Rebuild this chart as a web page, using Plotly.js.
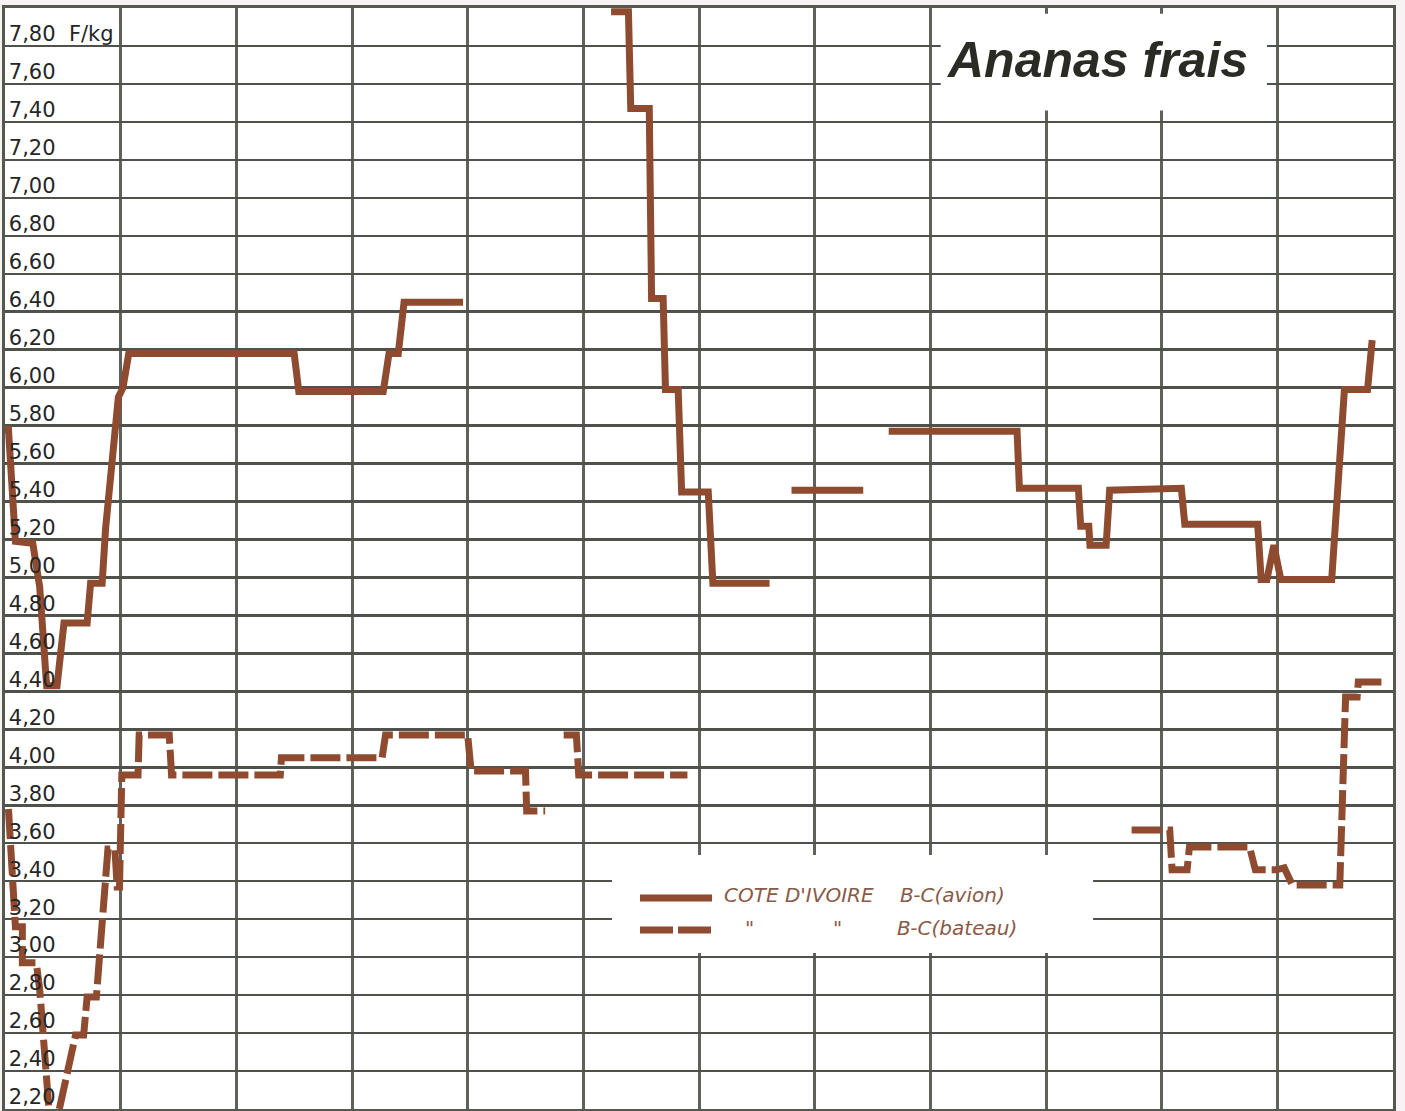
<!DOCTYPE html>
<html>
<head>
<meta charset="utf-8">
<script src="https://cdn.plot.ly/plotly-3.0.1.min.js"></script>
<style>html,body{margin:0;padding:0;background:#f6f3f2;}#chart{width:1405px;height:1111px;}</style>
</head>
<body>
<div id="chart"></div>
<script>
// ---- Data (x in months from the left edge, y in F/kg) ----
const monthTicks = [0,1,2,3,4,5,6,7,8,9,10,11,12];
const priceTicks = [2.2,2.4,2.6,2.8,3.0,3.2,3.4,3.6,3.8,4.0,4.2,4.4,4.6,4.8,5.0,5.2,5.4,5.6,5.8,6.0,6.2,6.4,6.6,6.8,7.0,7.2,7.4,7.6,7.8,8.0];
const priceLabels = ["2,20","2,40","2,60","2,80","3,00","3,20","3,40","3,60","3,80","4,00","4,20","4,40","4,60","4,80","5,00","5,20","5,40","5,60","5,80","6,00","6,20","6,40","6,60","6,80","7,00","7,20","7,40","7,60","7,80  F/kg",""];

const avionMonths = [0.00,0.03,0.09,0.24,0.30,0.36,0.45,0.51,0.71,0.74,0.84,0.87,0.98,1.02,1.07,2.50,2.54,3.27,3.32,3.40,3.45,3.96,null,
  5.24,5.39,5.41,5.57,5.59,5.69,5.71,5.82,5.85,6.08,6.12,6.61,null,
  6.80,7.42,null,
  7.64,8.75,8.77,9.28,9.30,9.37,9.38,9.52,9.55,10.17,10.20,10.83,10.86,10.91,10.97,11.03,11.47,11.58,11.78,11.82];
const avionPrices = [5.78,5.78,5.19,5.18,4.95,4.43,4.43,4.76,4.76,4.97,4.97,5.26,5.95,6.00,6.18,6.18,5.98,5.98,6.18,6.18,6.45,6.45,null,
  7.98,7.98,7.47,7.47,6.47,6.47,5.99,5.99,5.45,5.45,4.97,4.97,null,
  5.46,5.46,null,
  5.77,5.77,5.47,5.47,5.27,5.27,5.17,5.17,5.46,5.47,5.28,5.28,4.99,4.99,5.17,4.99,4.99,5.99,5.99,6.25];

const bateauMonths = [0.03,0.09,0.15,0.15,0.27,0.30,0.38,null,
  0.47,0.56,0.61,0.68,0.71,0.79,0.82,0.87,0.89,0.95,0.97,0.99,1.01,1.15,1.16,1.42,1.44,2.38,2.39,3.26,3.29,4.00,4.03,4.50,4.51,4.67,null,
  4.83,4.94,4.96,5.90,null,
  9.74,9.98,10.07,10.09,10.22,10.24,10.76,10.81,10.99,11.06,11.13,11.54,11.59,11.69,11.70,11.90];
const bateauPrices = [3.78,3.16,3.16,2.97,2.97,2.83,2.20,null,
  2.20,2.45,2.59,2.59,2.79,2.79,3.05,3.40,3.57,3.57,3.37,3.37,3.96,3.96,4.17,4.17,3.96,3.96,4.05,4.05,4.17,4.17,3.98,3.98,3.77,3.77,null,
  4.17,4.17,3.96,3.96,null,
  3.67,3.67,3.67,3.46,3.46,3.58,3.58,3.46,3.46,3.47,3.38,3.38,4.37,4.37,4.45,4.45];

const titleText = "Ananas frais";
const seriesNames = ["COTE D'IVOIRE  B-C(avion)", "COTE D'IVOIRE  B-C(bateau)"];

// ---- Styles ----
const BROWN = '#8f4b2f';
const LEG = '#8b5a47';

const traces = [
  {x: avionMonths, y: avionPrices, name: seriesNames[0], type: 'scatter', mode: 'lines',
   line: {color: BROWN, width: 7}, connectgaps: false, hoverinfo: 'skip'},
  {x: bateauMonths, y: bateauPrices, name: seriesNames[1], type: 'scatter', mode: 'lines',
   line: {color: BROWN, width: 7, dash: '30px,6px'}, connectgaps: false, hoverinfo: 'skip'}
];

const legFont = {family: 'DejaVu Sans', size: 20, color: LEG, style: 'italic'};

const layout = {
  width: 1405, height: 1111,
  margin: {l: 5, r: 12, t: 8, b: 2, pad: 0},
  paper_bgcolor: '#f6f3f2',
  plot_bgcolor: '#ffffff',
  showlegend: false,
  xaxis: {
    range: [0, 12], tickmode: 'array', tickvals: monthTicks, showticklabels: false, ticks: '',
    showgrid: true, gridcolor: '#5f615b', gridwidth: 3, zeroline: false,
    showline: true, mirror: true, linecolor: '#55584f', linewidth: 3
  },
  yaxis: {
    range: [2.2, 8.0], tickmode: 'array', tickvals: priceTicks, ticktext: priceLabels,
    ticklabelposition: 'inside', ticklabelshift: -12, ticklabelstandoff: 5, ticklabeloverflow: 'allow',
    tickfont: {family: 'DejaVu Sans', size: 21, color: '#262626'}, ticks: '',
    showgrid: true, gridcolor: '#4f524a', gridwidth: 2.5, zeroline: false,
    showline: true, mirror: true, linecolor: '#55584f', linewidth: 3
  },
  shapes: [
    // white panel behind title
    {type: 'rect', xref: 'x', yref: 'y', x0: 8.09, x1: 10.91, y0: 7.46, y1: 7.97,
     fillcolor: '#ffffff', line: {width: 0}, layer: 'above'},
    // white panel behind legend
    {type: 'rect', xref: 'paper', yref: 'paper', x0: 0.4373, x1: 0.7839, y0: 0.1417, y1: 0.2307,
     fillcolor: '#ffffff', line: {width: 0}, layer: 'above'},
    // legend swatches
    {type: 'line', xref: 'paper', yref: 'paper', x0: 0.4575, x1: 0.5094, y0: 0.1916, y1: 0.1916,
     line: {color: BROWN, width: 7}, layer: 'above'},
    {type: 'line', xref: 'paper', yref: 'paper', x0: 0.4575, x1: 0.5094, y0: 0.1626, y1: 0.1626,
     line: {color: BROWN, width: 7, dash: '33px,5px'}, layer: 'above'}
  ],
  annotations: [
    {text: titleText, xref: 'paper', yref: 'paper', x: 0.7867, y: 0.9528, xanchor: 'center', yanchor: 'middle',
     showarrow: false, font: {family: 'Liberation Sans', size: 50, color: '#2b2b25', style: 'italic', weight: 'bold'}},
    {text: "COTE D'IVOIRE", xref: 'paper', yref: 'paper', x: 0.5166, y: 0.1944, xanchor: 'left', yanchor: 'middle',
     showarrow: false, font: legFont},
    {text: 'B-C(avion)', xref: 'paper', yref: 'paper', x: 0.6434, y: 0.1944, xanchor: 'left', yanchor: 'middle',
     showarrow: false, font: legFont},
    {text: '"', xref: 'paper', yref: 'paper', x: 0.5367, y: 0.1644, xanchor: 'center', yanchor: 'middle',
     showarrow: false, font: legFont},
    {text: '"', xref: 'paper', yref: 'paper', x: 0.6001, y: 0.1644, xanchor: 'center', yanchor: 'middle',
     showarrow: false, font: legFont},
    {text: 'B-C(bateau)', xref: 'paper', yref: 'paper', x: 0.6412, y: 0.1644, xanchor: 'left', yanchor: 'middle',
     showarrow: false, font: legFont}
  ]
};

Plotly.newPlot('chart', traces, layout, {displayModeBar: false, staticPlot: true});
</script>
</body>
</html>
